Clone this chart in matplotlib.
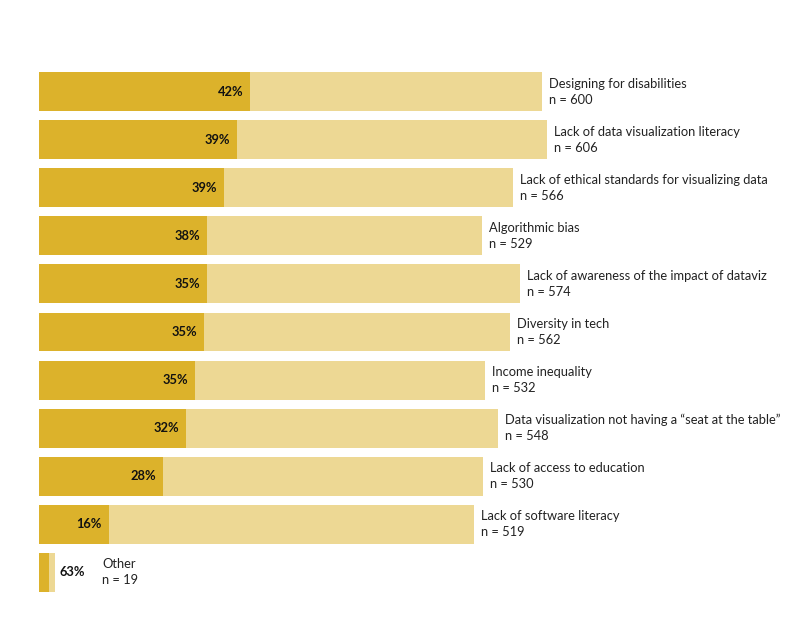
import numpy as np
import matplotlib.pyplot as plt

plt.rcParams['font.family'] = ['Lato', 'DejaVu Sans']

# survey data
issues = ['Designing for disabilities',
          'Lack of data visualization literacy',
          'Lack of ethical standards for visualizing data',
          'Algorithmic bias',
          'Lack of awareness of the impact of dataviz',
          'Diversity in tech',
          'Income inequality',
          'Data visualization not having a \u201cseat at the table\u201d',
          'Lack of access to education',
          'Lack of software literacy',
          'Other']
n_resp = [600, 606, 566, 529, 574, 562, 532, 548, 530, 519, 19]
pct = [42, 39, 39, 38, 35, 35, 35, 32, 28, 16, 63]

dark = '#DCB22B'
light = '#EDD894'

scale = 0.838  # px per respondent
fig = plt.figure(figsize=(8.05, 6.42), dpi=100)
ax = fig.add_axes([0, 0, 1, 1])
ax.set_xlim(-39 / scale, (805 - 39) / scale)
ax.set_ylim((642 - 91.5) / 48.1, -91.5 / 48.1)
ax.axis('off')

y = np.arange(len(issues))
n_arr = np.array(n_resp)
p_arr = np.array(pct) / 100
ax.barh(y, n_arr, height=0.81, color=light, edgecolor='none')
ax.barh(y, n_arr * p_arr, height=0.81, color=dark, edgecolor='none')

px = 0.72  # points per pixel
fs = 9.3
for i in range(len(issues)):
    end = n_arr[i]
    if end > 100:
        ax.annotate(f'{pct[i]}%', (end * p_arr[i], y[i]), xytext=(-7 * px, 0),
                    textcoords='offset points', ha='right', va='center',
                    fontsize=fs, fontweight='bold', color='#111111')
        lx = 7
    else:
        ax.annotate(f'{pct[i]}%', (end, y[i]), xytext=(30 * px, 0),
                    textcoords='offset points', ha='right', va='center',
                    fontsize=fs, fontweight='bold', color='#111111')
        lx = 47
    ax.annotate(issues[i], (end, y[i]), xytext=(lx * px, 8 * px),
                textcoords='offset points', ha='left', va='center',
                fontsize=fs, color='#222222')
    ax.annotate(f'n = {n_resp[i]}', (end, y[i]), xytext=(lx * px, -8 * px),
                textcoords='offset points', ha='left', va='center',
                fontsize=fs, color='#222222')

fig.savefig('out.png', dpi=100)
